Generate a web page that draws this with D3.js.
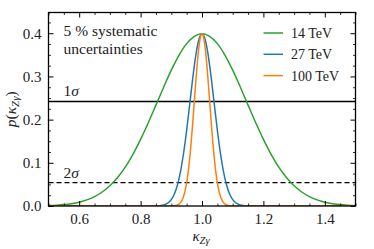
<!DOCTYPE html>
<html>
<head>
<meta charset="utf-8">
<script src="https://cdn.jsdelivr.net/npm/d3@7"></script>
</head>
<body style="margin:0">
<script>
// values
const greenX = [0.5,0.525,0.55,0.575,0.6,0.625,0.65,0.675,0.7,0.725,0.75,0.775,0.8,0.825,0.85,0.875,0.9,0.925,0.95,0.975,1.0,
  1.025,1.05,1.075,1.1,1.125,1.15,1.175,1.2,1.225,1.25,1.275,1.3,1.325,1.35,1.375,1.4,1.425,1.45,1.475,1.5];
const greenY = [0.0010,0.0019,0.0032,0.0054,0.0089,0.0141,0.0217,0.0324,0.0469,0.0661,0.0902,0.1197,0.1541,0.1926,0.2336,0.2751,0.3145,0.3490,0.3759,0.3930,0.3989,
  0.3930,0.3759,0.3490,0.3145,0.2751,0.2336,0.1926,0.1541,0.1197,0.0902,0.0661,0.0469,0.0324,0.0217,0.0141,0.0089,0.0054,0.0032,0.0019,0.0010];

const blueX = [0.5,0.85,0.86,0.87,0.88,0.89,0.9,0.91,0.92,0.93,0.94,0.95,0.96,0.97,0.98,0.99,1.0,
  1.01,1.02,1.03,1.04,1.05,1.06,1.07,1.08,1.09,1.1,1.11,1.12,1.13,1.14,1.15,1.5];
const blueY = [0,0.0002,0.0006,0.0015,0.0035,0.0075,0.0149,0.0278,0.0487,0.0797,0.1221,0.1754,0.2358,0.2968,0.3498,0.3860,0.3989,
  0.3860,0.3498,0.2968,0.2358,0.1754,0.1221,0.0797,0.0487,0.0278,0.0149,0.0075,0.0035,0.0015,0.0006,0.0002,0];

const orangeX = [0.5,0.9,0.91,0.92,0.925,0.93,0.935,0.94,0.945,0.95,0.955,0.96,0.965,0.97,0.975,0.98,0.985,0.99,0.995,1.0,
  1.005,1.01,1.015,1.02,1.025,1.03,1.035,1.04,1.045,1.05,1.055,1.06,1.065,1.07,1.075,1.08,1.09,1.1,1.5];
const orangeY = [0,0.0001,0.0006,0.0024,0.0044,0.0079,0.0136,0.0224,0.0355,0.0540,0.0790,0.1109,0.1497,0.1942,0.2420,0.2897,0.3332,0.3683,0.3910,0.3989,
  0.3910,0.3683,0.3332,0.2897,0.2420,0.1942,0.1497,0.1109,0.0790,0.0540,0.0355,0.0224,0.0136,0.0079,0.0044,0.0024,0.0006,0.0001,0];

const seriesNames = ["14 TeV", "27 TeV", "100 TeV"];
const seriesColors = ["#2ca02c", "#1f77b4", "#ff7f0e"];
const sigmaLevels = [0.242, 0.054];
const sigmaLabels = ["1", "2"];

const xMajor = [0.6, 0.8, 1.0, 1.2, 1.4];
const xMinor = [0.5,0.55,0.65,0.7,0.75,0.85,0.9,0.95,1.05,1.1,1.15,1.25,1.3,1.35,1.45,1.5];
const yMajor = [0.0, 0.1, 0.2, 0.3, 0.4];
const yMinor = [0.025,0.05,0.075,0.125,0.15,0.175,0.225,0.25,0.275,0.325,0.35,0.375,0.425];

const TXT = "#222";

const width = 374, height = 249;
const margin = {left: 48.5, right: 18.5, top: 12.5, bottom: 43};
const W = width - margin.left - margin.right;
const H = height - margin.top - margin.bottom;

const svg = d3.select("body").append("svg")
    .attr("width", width)
    .attr("height", height);

const g = svg.append("g").attr("transform", `translate(${margin.left},${margin.top})`);

const x = d3.scaleLinear().domain([0.5, 1.5]).range([0, W]);
const y = d3.scaleLinear().domain([0, 0.448]).range([H, 0]);

// clip so curves stay inside the frame
svg.append("defs").append("clipPath").attr("id", "clip")
   .append("rect").attr("width", W).attr("height", H);

const plot = g.append("g").attr("clip-path", "url(#clip)");

const line = d3.line()
    .x(d => x(d[0]))
    .y(d => y(d[1]))
    .curve(d3.curveMonotoneX);

const allSeries = [
  d3.zip(greenX, greenY),
  d3.zip(blueX, blueY),
  d3.zip(orangeX, orangeY)
];

// sigma lines
plot.selectAll("line.sigma")
    .data(sigmaLevels)
    .enter().append("line")
    .attr("x1", 0).attr("x2", W)
    .attr("y1", d => y(d)).attr("y2", d => y(d))
    .attr("stroke", "#000")
    .attr("stroke-width", 1.3)
    .attr("stroke-dasharray", (d, i) => i == 1 ? "5,3" : null);

plot.selectAll("path.curve")
    .data(allSeries)
    .enter().append("path")
    .attr("d", line)
    .attr("fill", "none")
    .attr("stroke", (d, i) => seriesColors[i])
    .attr("stroke-width", 1.5);

function label(sel, size) {
  return sel.append("text")
      .attr("font-size", size)
      .attr("fill", TXT);
}

// sigma labels
sigmaLabels.forEach(function(s, i) {
  const t = label(g, 15.5)
      .attr("x", 15)
      .attr("y", y(sigmaLevels[i]) - 5);
  t.append("tspan").text(s);
  t.append("tspan").attr("font-style", "italic").text("\u03c3");
});

// note
label(g, 15.5).attr("x", 15).attr("y", 23.5).text("5 % systematic");
label(g, 15.5).attr("x", 15).attr("y", 41).text("uncertainties");

// axes, ticks pointing inwards on all four sides
function ticks(axis, vals, size, labels) {
  return axis.tickValues(vals).tickSizeInner(-size).tickSizeOuter(0)
             .tickPadding(labels ? 7 : 0)
             .tickFormat(labels ? d3.format(".1f") : "");
}

const axes = [
  [d3.axisBottom(x), xMajor, xMinor, `translate(0,${H})`, true],
  [d3.axisTop(x), xMajor, xMinor, "translate(0,0)", false],
  [d3.axisLeft(y), yMajor, yMinor, "translate(0,0)", true],
  [d3.axisRight(y), yMajor, yMinor, `translate(${W},0)`, false]
];

axes.forEach(function(a) {
  const gMin = g.append("g").attr("transform", a[3]).call(ticks(a[0], a[2], 2.5, false));
  gMin.select(".domain").remove();
  gMin.selectAll("text").remove();
  gMin.selectAll("line").attr("stroke", "#000").attr("stroke-width", 0.8);
});
axes.forEach(function(a) {
  const gMaj = g.append("g").attr("transform", a[3]).call(ticks(a[0], a[1], 5, a[4]));
  gMaj.attr("font-family", null).attr("font-size", 15);
  gMaj.select(".domain").remove();
  gMaj.selectAll("line").attr("stroke", "#000").attr("stroke-width", 1);
  if (a[4]) gMaj.selectAll("text").attr("fill", TXT);
  else gMaj.selectAll("text").remove();
});

// frame
g.append("rect").attr("width", W).attr("height", H)
 .attr("fill", "none").attr("stroke", "#000").attr("stroke-width", 1.3);

// legend
const legend = g.append("g").attr("transform", `translate(${W - 92},0)`);
seriesNames.forEach(function(name, i) {
  const ly = 20.5 + i * 21.3;
  legend.append("line").attr("x1", 0).attr("x2", 19.5).attr("y1", ly).attr("y2", ly)
        .attr("stroke", seriesColors[i]).attr("stroke-width", 1.5);
  label(legend, 14).attr("x", 27.5).attr("y", ly + 5).text(name);
});

// axis titles
const xl = label(svg, 15)
    .attr("x", margin.left + W / 2 - 1)
    .attr("y", 241)
    .attr("text-anchor", "middle");
xl.append("tspan").attr("font-style", "italic").text("\u03ba");
xl.append("tspan").attr("dy", 3).attr("font-size", 10.5).attr("font-style", "italic").text("Z\u03b3");

const yl = label(svg, 15.5)
    .attr("transform", `translate(16,${margin.top + H / 2}) rotate(-90)`)
    .attr("text-anchor", "middle");
yl.append("tspan").attr("font-style", "italic").text("p");
yl.append("tspan").text("(");
yl.append("tspan").attr("font-style", "italic").text("\u03ba");
yl.append("tspan").attr("dy", 3).attr("font-size", 11).attr("font-style", "italic").text("Z\u03b3");
yl.append("tspan").attr("dy", -3).text(")");

// one font for every text of the chart
svg.selectAll("text").style("font-family", '"Liberation Serif"');
</script>
</body>
</html>
